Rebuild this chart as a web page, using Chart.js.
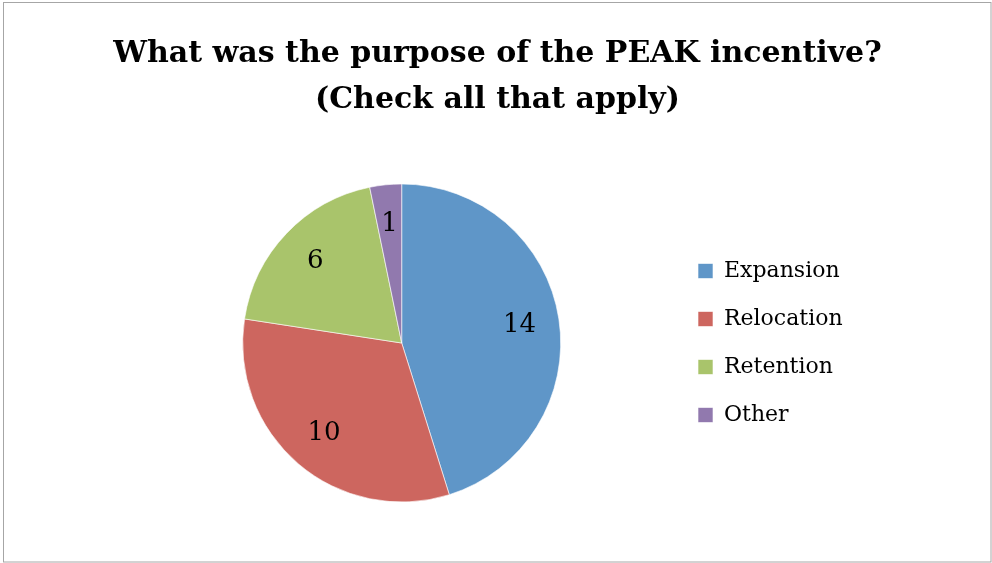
<!DOCTYPE html>
<html>
<head>
<meta charset="utf-8">
<script src="https://cdn.jsdelivr.net/npm/chart.js@4/dist/chart.umd.min.js"></script>
<style>
  html, body { margin: 0; padding: 0; background: #ffffff; }
  #wrap { position: relative; width: 992px; height: 563px; }
  canvas { display: block; }
</style>
</head>
<body>
<div id="wrap"><canvas id="c" width="992" height="563"></canvas></div>
<script>
const titleLines = ["What was the purpose of the PEAK incentive?", "(Check all that apply)"];
const categories = ["Expansion", "Relocation", "Retention", "Other"];
const values = [14, 10, 6, 1];
const colors = ["#5F96C8", "#CD665F", "#A9C46B", "#9179AE"];

// chart frame (thin grey border of the chart object)
const frame = {
  id: 'frame',
  afterDraw(chart) {
    const c = chart.ctx;
    c.save();
    c.strokeStyle = '#A6A6A6';
    c.lineWidth = 1;
    c.strokeRect(3.5, 2.5, 987.5, 559.5);
    c.restore();
  }
};

// two-line chart title, centred on the chart frame
const chartTitle = {
  id: 'chartTitle',
  afterDraw(chart) {
    const c = chart.ctx;
    c.save();
    c.font = 'bold 30px "DejaVu Serif"';
    c.fillStyle = '#000000';
    c.textAlign = 'center';
    c.textBaseline = 'alphabetic';
    const cx = 497.5;
    const baselines = [62, 108];
    titleLines.forEach((t, i) => c.fillText(t, cx, baselines[i]));
    c.restore();
  }
};

// value labels inside the slices
const sliceLabels = {
  id: 'sliceLabels',
  afterDatasetsDraw(chart) {
    const c = chart.ctx;
    const meta = chart.getDatasetMeta(0);
    c.save();
    c.font = '26px "DejaVu Serif"';
    c.fillStyle = '#000000';
    c.textAlign = 'center';
    c.textBaseline = 'middle';
    meta.data.forEach((arc, i) => {
      const p = arc.getProps(['x', 'y', 'startAngle', 'endAngle', 'outerRadius']);
      const mid = (p.startAngle + p.endAngle) / 2;
      const r = p.outerRadius * 0.75;
      c.fillText(String(values[i]), p.x + Math.cos(mid) * r, p.y + Math.sin(mid) * r);
    });
    c.restore();
  }
};

const chart = new Chart(document.getElementById('c'), {
  type: 'pie',
  data: {
    labels: categories,
    datasets: [{
      data: values,
      backgroundColor: colors,
      borderColor: 'rgba(255,255,255,0.6)',
      borderWidth: 1
    }]
  },
  options: {
    responsive: false,
    animation: false,
    layout: { padding: { top: 183.5, bottom: 60.5, left: 131.4, right: 140 } },
    plugins: {
      title: { display: false },
      legend: {
        display: true,
        position: 'right',
        align: 'center',
        fullSize: false,
        labels: {
          color: '#000000',
          font: { family: '"DejaVu Serif"', size: 22 },
          boxWidth: 15,
          boxHeight: 15,
          padding: 26
        }
      },
      tooltip: { enabled: false }
    }
  },
  plugins: [sliceLabels, chartTitle, frame]
});

// second pass: place chart area and legend from the measured legend width
const lw = chart.legend.width;
const legendLeft = 672;
const padL = 2 * 401.7 - legendLeft;
const padR = 992 - legendLeft - lw;
chart.options.layout.padding = { top: 183.5, bottom: 60.5, left: padL, right: padR };
chart.update('none');
</script>
</body>
</html>
